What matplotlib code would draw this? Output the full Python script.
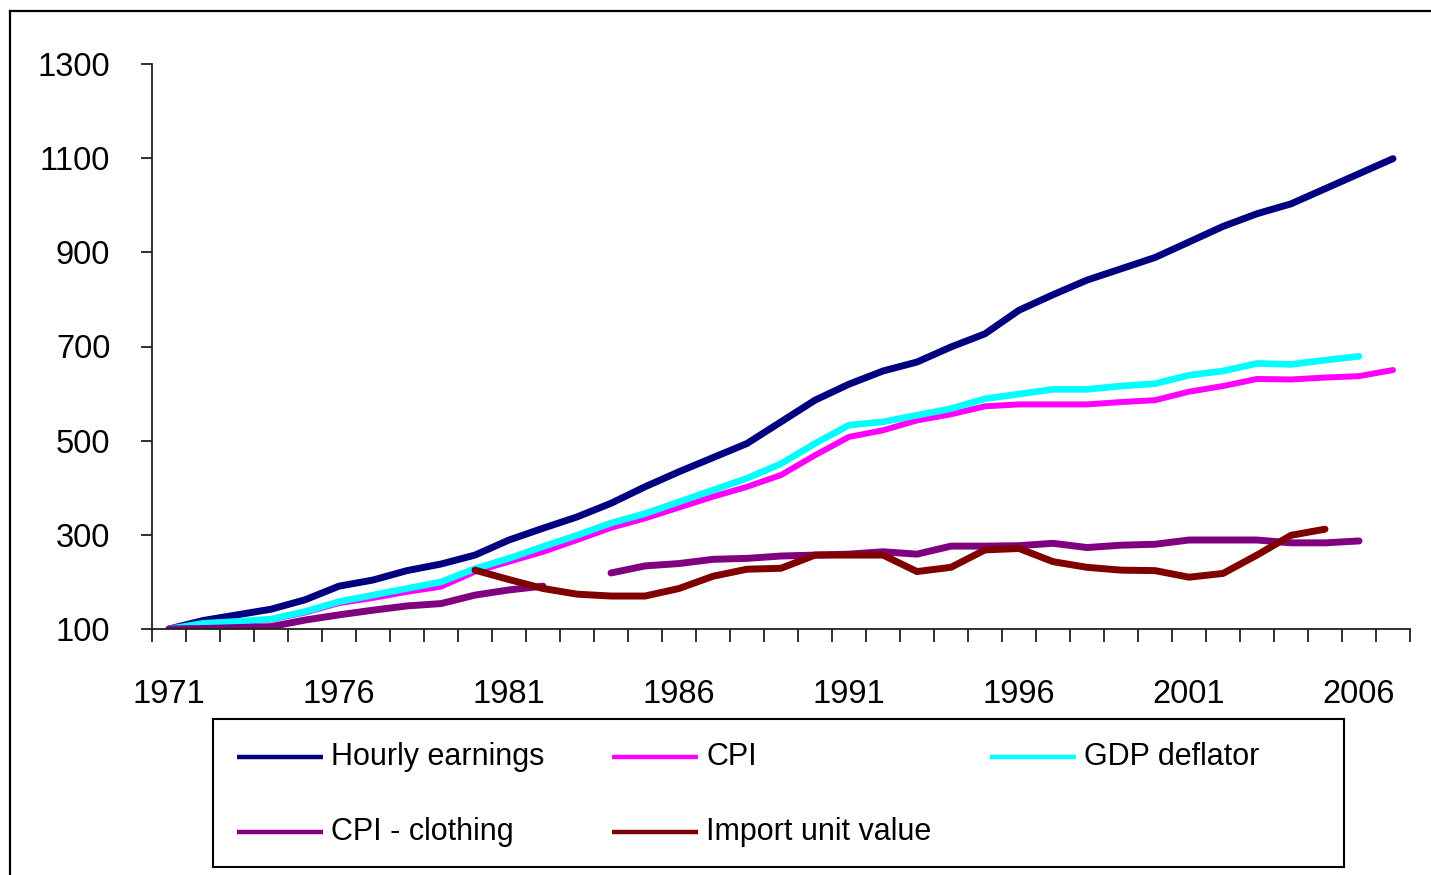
import numpy as np
import matplotlib
matplotlib.use("Agg")
import matplotlib.pyplot as plt
from matplotlib.lines import Line2D

plt.rcParams['font.family'] = ['Liberation Sans', 'DejaVu Sans']

nan = np.nan
years = list(range(1971, 2008))

hourly_earnings = [100, 118, 130, 142, 162, 191, 204, 224, 238, 257, 289, 314, 338, 367,
                   402, 434, 464, 494, 540, 586, 620, 648, 667, 699, 727, 777, 810, 841,
                   865, 889, 922, 955, 982, 1003, 1035, 1067, 1099]
cpi = [100, 110, 114, 120, 135, 155, 166, 179, 190, 222, 243, 264, 289, 315,
       335, 358, 381, 402, 427, 469, 508, 522, 543, 556, 573, 577, 577, 577,
       582, 586, 604, 616, 631, 630, 634, 637, 650]
gdp_deflator = [100, 112, 116, 121, 137, 158, 172, 186, 200, 228, 250, 275, 299, 325,
                345, 370, 395, 420, 451, 494, 533, 540, 554, 568, 589, 599, 609, 609,
                616, 621, 639, 648, 664, 662, 671, 679, nan]
cpi_clothing = [100, 101, 103, 105, 119, 130, 140, 149, 154, 172, 183, 191, nan, 219,
                234, 239, 248, 250, 255, 257, 259, 264, 259, 276, 276, 277, 282, 273,
                278, 280, 289, 289, 289, 283, 283, 287, nan]
import_unit_value = [nan, nan, nan, nan, nan, nan, nan, nan, nan, 225, 205, 186, 174, 170,
                     170, 186, 212, 227, 229, 257, 257, 257, 222, 231, 268, 271, 243, 231,
                     225, 224, 210, 218, 257, 299, 312, nan, nan]

series_names = ["Hourly earnings", "CPI", "GDP deflator", "CPI - clothing", "Import unit value"]
series_values = [hourly_earnings, cpi, gdp_deflator, cpi_clothing, import_unit_value]
colors = ["#000080", "#FF00FF", "#00FFFF", "#800080", "#800000"]
widths = [5.0, 4.3, 4.8, 5.0, 5.0]

y_ticks = [100, 300, 500, 700, 900, 1100, 1300]
x_label_years = [1971, 1976, 1981, 1986, 1991, 1996, 2001, 2006]

W, H = 1431, 875
fig = plt.figure(figsize=(W / 100, H / 100), dpi=100)
fig.patch.set_facecolor("white")

# outer frame (top and left visible)
fig.add_artist(Line2D([10 / W, 10 / W], [1 - 11 / H, -0.05], transform=fig.transFigure,
                      color="black", lw=1.6, clip_on=False))
fig.add_artist(Line2D([10 / W, 1.05], [1 - 11 / H, 1 - 11 / H], transform=fig.transFigure,
                      color="black", lw=1.6, clip_on=False))

left, right, top, bottom = 152, 1410, 64, 629
ax = fig.add_axes([left / W, 1 - bottom / H, (right - left) / W, (bottom - top) / H])

x = np.arange(len(years))
for vals, col, lw in zip(series_values, colors, widths):
    ax.plot(x, np.array(vals, dtype=float), color=col, lw=lw,
            solid_capstyle="round", solid_joinstyle="round")

ax.set_xlim(-0.5, len(years) - 0.5)
ax.set_ylim(y_ticks[0], y_ticks[-1])
ax.set_yticks(y_ticks)
ax.set_yticklabels([str(v) for v in y_ticks])

# tick marks at category boundaries, labels on categories
ax.set_xticks(np.arange(-0.5, len(years), 1.0))
ax.set_xticklabels([])
lab_pos = [years.index(yv) for yv in x_label_years]
ax.set_xticks(lab_pos, minor=True)
ax.set_xticklabels([str(yv) for yv in x_label_years], minor=True)

for s in ["top", "right"]:
    ax.spines[s].set_visible(False)
for s in ["left", "bottom"]:
    ax.spines[s].set_linewidth(1.3)
    ax.spines[s].set_color("#202020")

ax.tick_params(axis="x", which="major", direction="out", length=9, width=1.3, color="#202020")
ax.tick_params(axis="x", which="minor", length=0, pad=36, labelsize=23.5)
ax.tick_params(axis="y", direction="out", length=8, width=1.3, color="#202020",
               pad=22, labelsize=23.5)

# legend box
lx0, ly0, lx1, ly1 = 213, 719, 1344, 867
lax = fig.add_axes([lx0 / W, 1 - ly1 / H, (lx1 - lx0) / W, (ly1 - ly0) / H])
lax.set_xlim(0, lx1 - lx0)
lax.set_ylim(ly1 - ly0, 0)
lax.set_xticks([])
lax.set_yticks([])
for s in lax.spines.values():
    s.set_linewidth(1.5)
    s.set_color("black")
col_x = [24, 399, 777]
row_y = [38, 113]
slots = [(0, 0), (1, 0), (2, 0), (0, 1), (1, 1)]
for name, col, (ci, ri) in zip(series_names, colors, slots):
    x0 = col_x[ci]
    yy = row_y[ri]
    lax.plot([x0, x0 + 86], [yy, yy], color=col, lw=3.2, solid_capstyle="butt")
    lax.text(x0 + 94, yy, name, fontsize=22, va="center", ha="left", color="black")

fig.savefig("out.png", dpi=100)
